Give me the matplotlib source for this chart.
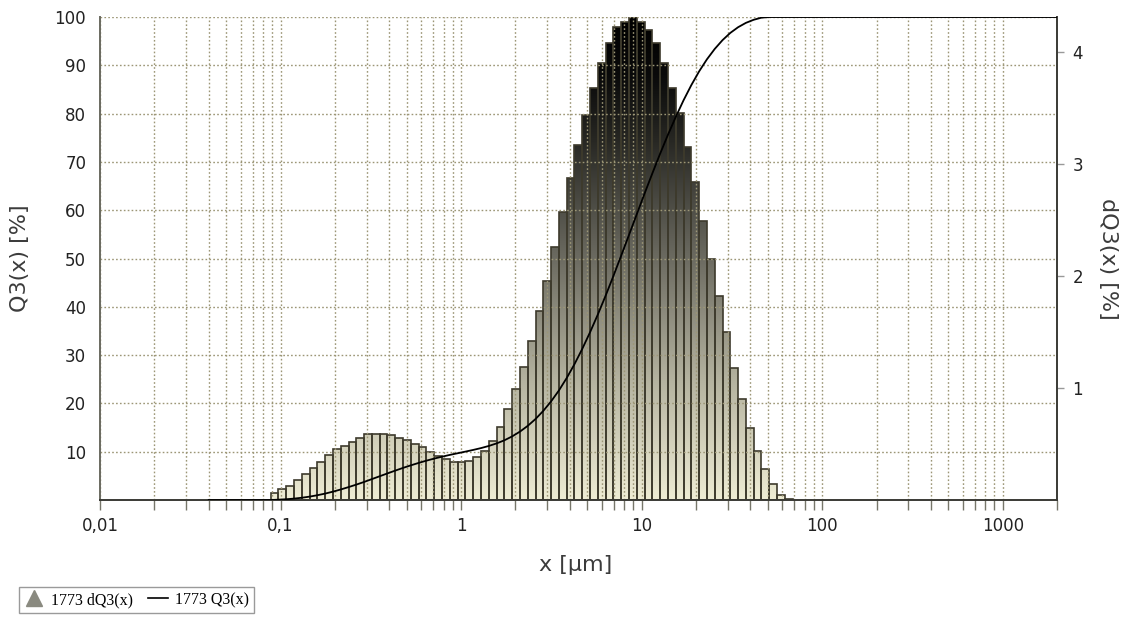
import numpy as np
import matplotlib
matplotlib.use('Agg')
import matplotlib.pyplot as plt
from matplotlib.path import Path
from matplotlib.patches import PathPatch
from matplotlib.lines import Line2D
from matplotlib.colors import LinearSegmentedColormap
from matplotlib.ticker import FixedLocator, LogLocator, FuncFormatter, NullFormatter

# size classes, edges in µm
edges = [0.0880, 0.0972, 0.1074, 0.1186, 0.1310, 0.1447, 0.1598, 0.1765, 0.1949,
         0.2153, 0.2378, 0.2627, 0.2901, 0.3204, 0.3539, 0.3909, 0.4317, 0.4768,
         0.5266, 0.5816, 0.6424, 0.7095, 0.7837, 0.8656, 0.9560, 1.0559, 1.1662,
         1.2881, 1.4227, 1.5713, 1.7355, 1.9168, 2.1171, 2.3383, 2.5826, 2.8524,
         3.1505, 3.4797, 3.8432, 4.2447, 4.6882, 5.1781, 5.7191, 6.3166, 6.9766,
         7.7055, 8.5106, 9.3998, 10.382, 11.467, 12.665, 13.988, 15.450, 17.064,
         18.847, 20.816, 22.991, 25.394, 28.047, 30.977, 34.214, 37.789, 41.737,
         46.098, 50.915, 56.235, 62.111, 68.601]

# density per class [%]
dq3 = [0.065, 0.098, 0.125, 0.179, 0.229, 0.289, 0.342, 0.402, 0.452, 0.485,
       0.521, 0.557, 0.589, 0.589, 0.589, 0.580, 0.557, 0.536, 0.500, 0.470,
       0.426, 0.393, 0.366, 0.339, 0.339, 0.348, 0.380, 0.440, 0.530, 0.648,
       0.810, 0.990, 1.185, 1.420, 1.690, 1.958, 2.256, 2.574, 2.872, 3.170,
       3.440, 3.680, 3.900, 4.080, 4.220, 4.270, 4.310, 4.270, 4.190, 4.080,
       3.900, 3.680, 3.450, 3.150, 2.840, 2.490, 2.150, 1.820, 1.500, 1.180,
       0.900, 0.646, 0.440, 0.280, 0.143, 0.042, 0.012]

# cumulative curve [%] at the upper class edges
q3 = [0.07, 0.16, 0.29, 0.47, 0.70, 0.99, 1.33, 1.73, 2.18, 2.67,
      3.19, 3.74, 4.33, 4.92, 5.51, 6.09, 6.65, 7.18, 7.68, 8.15,
      8.58, 8.97, 9.34, 9.68, 10.02, 10.37, 10.75, 11.19, 11.72, 12.36,
      13.17, 14.16, 15.35, 16.77, 18.46, 20.42, 22.67, 25.25, 28.12, 31.29,
      34.73, 38.41, 42.31, 46.39, 50.61, 54.88, 59.19, 63.46, 67.65, 71.73,
      75.63, 79.31, 82.76, 85.91, 88.75, 91.24, 93.39, 95.21, 96.71, 97.89,
      98.79, 99.43, 99.87, 100.0, 100.0, 100.0, 100.0]

fig = plt.figure(figsize=(11.28, 6.17), dpi=100)
ax = fig.add_axes([0.0887, 0.1896, 0.8484, 0.7828])
ax.set_xscale('log')
ax2 = ax.twinx()

# ax2 (dQ3) sits underneath and carries the background and the bars
ax.set_zorder(ax2.get_zorder() + 1)
ax.patch.set_visible(False)
ax2.patch.set_facecolor('#FBF7D0')

widths = np.diff(edges)
ax2.bar(edges[:-1], dq3, width=widths, align='edge', facecolor='none',
        edgecolor='#3d3a2c', linewidth=1.2, zorder=3)

# vertical gradient clipped to the bar outlines
verts = []
codes = []
for x0, x1, h in zip(edges[:-1], edges[1:], dq3):
    verts += [(x0, 0), (x1, 0), (x1, h), (x0, h), (x0, 0)]
    codes += [Path.MOVETO, Path.LINETO, Path.LINETO, Path.LINETO, Path.CLOSEPOLY]
clip = PathPatch(Path(verts, codes), transform=ax2.transData,
                 facecolor='none', edgecolor='none')
ax2.add_patch(clip)
cmap = LinearSegmentedColormap.from_list(
    'grad', [(0.0, '#EEECD4'), (0.25, '#B4B29F'), (0.5, '#6c6b61'),
             (0.75, '#262622'), (0.88, '#0a0a0a'), (1.0, '#000000')])
grad = np.linspace(0, 1, 256).reshape(-1, 1)
im = ax2.imshow(grad, extent=[0, 1, 0, 1], transform=ax2.transAxes,
                aspect='auto', cmap=cmap, origin='lower', zorder=2)
im.set_clip_path(clip)

# cumulative curve
qx = [0.04, edges[0]] + edges[1:] + [2000]
qy = [0, 0] + q3 + [100]
ax.plot(qx, qy, color='black', linewidth=1.3, zorder=4)

ax.set_xlim(0.01, 2000)
ax.set_ylim(0, 100)
ax2.set_xlim(0.01, 2000)
ax2.set_ylim(0, 4.31)

# axes, ticks
ax.xaxis.set_major_locator(FixedLocator([0.01, 0.1, 1, 10, 100, 1000]))
ax.xaxis.set_major_formatter(FuncFormatter(lambda v, p: ('%g' % v).replace('.', ',')))
ax.xaxis.set_minor_locator(LogLocator(base=10, subs=np.arange(2, 10)))
ax.xaxis.set_minor_formatter(NullFormatter())
ax.set_yticks(range(10, 101, 10))
ax.tick_params(axis='x', which='both', direction='out', length=7, width=1,
               color='#77766a', labelsize=12, pad=5, labelcolor='#222222')
ax.tick_params(axis='y', length=0, pad=10, labelsize=12, labelcolor='#222222')
ax2.set_yticks([1, 2, 3, 4])
ax2.tick_params(axis='y', direction='out', length=5, width=1, color='#999999',
                labelsize=12, pad=6, labelcolor='#222222')

grid_kw = dict(color='#9c9676', linestyle=(0, (1.2, 1.6)), linewidth=1.0)
ax.grid(True, which='both', axis='x', **grid_kw)
ax.grid(True, which='major', axis='y', **grid_kw)

for s in ax2.spines.values():
    s.set_visible(False)
ax.spines['top'].set_visible(False)
ax.spines['left'].set_color('#6a6a60')
ax.spines['bottom'].set_color('#3a3a35')
ax.spines['right'].set_color('#3a3a35')
for s in ('left', 'bottom', 'right'):
    ax.spines[s].set_linewidth(1.4)

ax.set_xlabel('x [µm]', fontsize=16, color='#3c3c3c')
ax.xaxis.set_label_coords(0.497, -0.113)
ax.set_ylabel('Q3(x) [%]', fontsize=16, color='#3c3c3c')
ax.yaxis.set_label_coords(-0.073, 0.5)
ax2.set_ylabel('dQ3(x) [%]', fontsize=16, color='#3c3c3c', rotation=270)
ax2.yaxis.set_label_coords(1.053, 0.5)
ax2.yaxis.label.set_va('center')

# legend below the plot
handles = [Line2D([], [], marker='^', linestyle='none', color='#8a8a80',
                  markersize=11),
           Line2D([], [], color='black', linewidth=1.2)]
fig.legend(handles, ['1773 dQ3(x)', '1773 Q3(x)'], ncol=2, loc='lower left',
           bbox_to_anchor=(0.01, -0.006), frameon=True, fancybox=False,
           edgecolor='#9a9a9a', framealpha=1,
           prop={'family': 'Liberation Serif', 'size': 11.5},
           handlelength=1.3, columnspacing=0.9, handletextpad=0.4,
           borderpad=0.3)

fig.savefig('out.png', dpi=100)
